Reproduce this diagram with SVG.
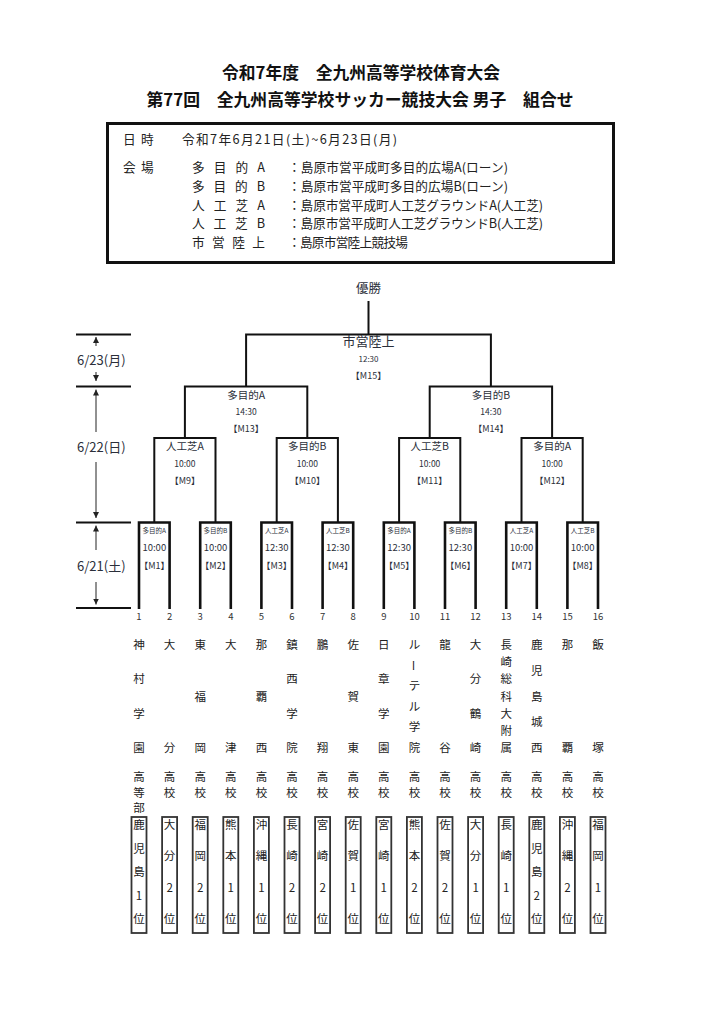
<svg xmlns="http://www.w3.org/2000/svg" width="722" height="1028" viewBox="0 0 722 1028">
<style>
text{font-family:"Noto Sans CJK JP","Noto Sans",sans-serif;fill:#222}
.ttl{font-size:17px;font-weight:bold;text-anchor:middle;fill:#111}
.inf{font-size:12.7px}
.ln{fill:none;stroke:#111;stroke-width:2}
.r1{fill:none;stroke:#111;stroke-width:2.6}
.dl{fill:none;stroke:#222;stroke-width:1}
.c{text-anchor:middle;fill:#2b2f3a}
.v0{font-size:13px}
.v1{font-size:10.5px}
.v2{font-size:6.5px}
.tm{font-size:8.5px}
.tm1{font-size:9.5px}
.mn{font-size:9px}
.num{font-size:9.5px;text-anchor:middle;fill:#333}
.nm{font-size:11.5px;text-anchor:middle;fill:#222}
.bx{fill:none;stroke:#333;stroke-width:1.8}
.dt{font-size:13px;fill:#2b2f3a}
</style>
<defs>
<marker id="ah" viewBox="0 0 10 10" refX="10" refY="5" markerWidth="6" markerHeight="6" orient="auto" markerUnits="userSpaceOnUse">
<path d="M0,0 L10,5 L0,10 z" fill="#222"/>
</marker>
</defs>

<g id="title">
<text class="ttl" x="361" y="79" textLength="278" lengthAdjust="spacingAndGlyphs">令和7年度　全九州高等学校体育大会</text>
<text class="ttl" x="360" y="106" textLength="427" lengthAdjust="spacingAndGlyphs">第77回　全九州高等学校サッカー競技大会 男子　組合せ</text>
</g>

<g id="info">
<rect x="107.5" y="123.5" width="506" height="139" fill="none" stroke="#111" stroke-width="3"/>
<text class="inf" x="123" y="144">日</text><text class="inf" x="141" y="144">時</text>
<text class="inf" x="182" y="144" textLength="215" lengthAdjust="spacing">令和7年6月21日(土)~6月23日(月)</text>
<text class="inf" x="123" y="172">会</text><text class="inf" x="141" y="172">場</text>
<text class="inf" x="192" y="172" textLength="73" lengthAdjust="spacing">多目的A</text>
<text class="inf" x="288" y="172" textLength="220" lengthAdjust="spacing">：島原市営平成町多目的広場A(ローン)</text>
<text class="inf" x="192" y="191" textLength="73" lengthAdjust="spacing">多目的B</text>
<text class="inf" x="288" y="191" textLength="220" lengthAdjust="spacing">：島原市営平成町多目的広場B(ローン)</text>
<text class="inf" x="192" y="210" textLength="73" lengthAdjust="spacing">人工芝A</text>
<text class="inf" x="288" y="210" textLength="255" lengthAdjust="spacing">：島原市営平成町人工芝グラウンドA(人工芝)</text>
<text class="inf" x="192" y="228" textLength="73" lengthAdjust="spacing">人工芝B</text>
<text class="inf" x="288" y="228" textLength="255" lengthAdjust="spacing">：島原市営平成町人工芝グラウンドB(人工芝)</text>
<text class="inf" x="192" y="247" textLength="73" lengthAdjust="spacing">市営陸上</text>
<text class="inf" x="288" y="247" textLength="120" lengthAdjust="spacing">：島原市営陸上競技場</text>
</g>

<g id="dates">
<path class="ln" d="M76,334.5H131M76,386.5H131M76,522.5H131M76,608H131"/>
<path class="dl" d="M96,346V337" marker-end="url(#ah)"/>
<path class="dl" d="M96,372V381" marker-end="url(#ah)"/>
<text class="dt" x="77" y="364.5">6/23(月)</text>
<path class="dl" d="M96,432V389.5" marker-end="url(#ah)"/>
<path class="dl" d="M96,462V518" marker-end="url(#ah)"/>
<text class="dt" x="77" y="451.5">6/22(日)</text>
<path class="dl" d="M96,550V525.5" marker-end="url(#ah)"/>
<path class="dl" d="M96,582V604.5" marker-end="url(#ah)"/>
<text class="dt" x="77" y="570.5">6/21(土)</text>
</g>

<g id="connectors">
<path class="ln" d="M368.5,301V334.5"/>
<path class="ln" d="M246.1,386.5V334.5H490.9V386.5"/>
<path class="ln" d="M184.9,438V386.5H307.3V438"/>
<path class="ln" d="M429.7,438V386.5H552.1V438"/>
<path class="ln" d="M154.3,522.5V438H215.5V522.5"/>
<path class="ln" d="M276.7,522.5V438H337.9V522.5"/>
<path class="ln" d="M399.1,522.5V438H460.3V522.5"/>
<path class="ln" d="M521.5,522.5V438H582.7V522.5"/>
<path class="r1" d="M139,609V522.5H169.6V609"/>
<path class="r1" d="M200.2,609V522.5H230.8V609"/>
<path class="r1" d="M261.4,609V522.5H292V609"/>
<path class="r1" d="M322.6,609V522.5H353.2V609"/>
<path class="r1" d="M383.8,609V522.5H414.4V609"/>
<path class="r1" d="M445,609V522.5H475.6V609"/>
<path class="r1" d="M506.2,609V522.5H536.8V609"/>
<path class="r1" d="M567.4,609V522.5H598V609"/>
</g>

<g id="champion"><text class="c v0" x="368.5" y="292.5" style="font-size:12.5px">優勝</text></g>

<g id="M15"><text class="c v0" x="368.5" y="346">市営陸上</text><text class="c tm" x="368.5" y="362" style="font-size:8px">12:30</text><text class="c mn" x="368.5" y="378.5">【M15】</text></g>
<g id="M13"><text class="c v1" x="246.1" y="399">多目的A</text><text class="c tm" x="246.1" y="414.5">14:30</text><text class="c mn" x="246.1" y="431.5">【M13】</text></g>
<g id="M14"><text class="c v1" x="490.9" y="399">多目的B</text><text class="c tm" x="490.9" y="414.5">14:30</text><text class="c mn" x="490.9" y="431.5">【M14】</text></g>

<g id="M9"><text class="c v1" x="184.9" y="450">人工芝A</text><text class="c tm" x="184.9" y="466.5">10:00</text><text class="c mn" x="184.9" y="483.5">【M9】</text></g>
<g id="M10"><text class="c v1" x="307.3" y="450">多目的B</text><text class="c tm" x="307.3" y="466.5">10:00</text><text class="c mn" x="307.3" y="483.5">【M10】</text></g>
<g id="M11"><text class="c v1" x="429.7" y="450">人工芝B</text><text class="c tm" x="429.7" y="466.5">10:00</text><text class="c mn" x="429.7" y="483.5">【M11】</text></g>
<g id="M12"><text class="c v1" x="552.1" y="450">多目的A</text><text class="c tm" x="552.1" y="466.5">10:00</text><text class="c mn" x="552.1" y="483.5">【M12】</text></g>

<g id="M1"><text class="c v2" x="154.3" y="532.5">多目的A</text><text class="c tm1" x="154.3" y="551">10:00</text><text class="c mn" x="154.3" y="568.5">【M1】</text></g>
<g id="M2"><text class="c v2" x="215.5" y="532.5">多目的B</text><text class="c tm1" x="215.5" y="551">10:00</text><text class="c mn" x="215.5" y="568.5">【M2】</text></g>
<g id="M3"><text class="c v2" x="276.7" y="532.5">人工芝A</text><text class="c tm1" x="276.7" y="551">12:30</text><text class="c mn" x="276.7" y="568.5">【M3】</text></g>
<g id="M4"><text class="c v2" x="337.9" y="532.5">人工芝B</text><text class="c tm1" x="337.9" y="551">12:30</text><text class="c mn" x="337.9" y="568.5">【M4】</text></g>
<g id="M5"><text class="c v2" x="399.1" y="532.5">多目的A</text><text class="c tm1" x="399.1" y="551">12:30</text><text class="c mn" x="399.1" y="568.5">【M5】</text></g>
<g id="M6"><text class="c v2" x="460.3" y="532.5">多目的B</text><text class="c tm1" x="460.3" y="551">12:30</text><text class="c mn" x="460.3" y="568.5">【M6】</text></g>
<g id="M7"><text class="c v2" x="521.5" y="532.5">人工芝A</text><text class="c tm1" x="521.5" y="551">10:00</text><text class="c mn" x="521.5" y="568.5">【M7】</text></g>
<g id="M8"><text class="c v2" x="582.7" y="532.5">人工芝B</text><text class="c tm1" x="582.7" y="551">10:00</text><text class="c mn" x="582.7" y="568.5">【M8】</text></g>

<g id="team1"><text class="num" x="139" y="619.5">1</text>
<text class="nm"><tspan x="139" y="649">神</tspan><tspan x="139" y="683.3">村</tspan><tspan x="139" y="717.7">学</tspan><tspan x="139" y="752">園</tspan><tspan x="139" y="781">高</tspan><tspan x="139" y="797">等</tspan><tspan x="139" y="812">部</tspan></text>
<rect class="bx" x="131.5" y="817" width="15" height="116"/>
<text class="nm"><tspan x="139" y="829">鹿</tspan><tspan x="139" y="852.5">児</tspan><tspan x="139" y="876">島</tspan><tspan x="139" y="899.5">1</tspan><tspan x="139" y="923">位</tspan></text></g>

<g id="team2"><text class="num" x="169.6" y="619.5">2</text>
<text class="nm"><tspan x="169.6" y="649">大</tspan><tspan x="169.6" y="752">分</tspan><tspan x="169.6" y="781">高</tspan><tspan x="169.6" y="797">校</tspan></text>
<rect class="bx" x="162.1" y="817" width="15" height="116"/>
<text class="nm"><tspan x="169.6" y="829">大</tspan><tspan x="169.6" y="860.3">分</tspan><tspan x="169.6" y="891.7">2</tspan><tspan x="169.6" y="923">位</tspan></text></g>

<g id="team3"><text class="num" x="200.2" y="619.5">3</text>
<text class="nm"><tspan x="200.2" y="649">東</tspan><tspan x="200.2" y="700.5">福</tspan><tspan x="200.2" y="752">岡</tspan><tspan x="200.2" y="781">高</tspan><tspan x="200.2" y="797">校</tspan></text>
<rect class="bx" x="192.7" y="817" width="15" height="116"/>
<text class="nm"><tspan x="200.2" y="829">福</tspan><tspan x="200.2" y="860.3">岡</tspan><tspan x="200.2" y="891.7">2</tspan><tspan x="200.2" y="923">位</tspan></text></g>

<g id="team4"><text class="num" x="230.8" y="619.5">4</text>
<text class="nm"><tspan x="230.8" y="649">大</tspan><tspan x="230.8" y="752">津</tspan><tspan x="230.8" y="781">高</tspan><tspan x="230.8" y="797">校</tspan></text>
<rect class="bx" x="223.3" y="817" width="15" height="116"/>
<text class="nm"><tspan x="230.8" y="829">熊</tspan><tspan x="230.8" y="860.3">本</tspan><tspan x="230.8" y="891.7">1</tspan><tspan x="230.8" y="923">位</tspan></text></g>

<g id="team5"><text class="num" x="261.4" y="619.5">5</text>
<text class="nm"><tspan x="261.4" y="649">那</tspan><tspan x="261.4" y="700.5">覇</tspan><tspan x="261.4" y="752">西</tspan><tspan x="261.4" y="781">高</tspan><tspan x="261.4" y="797">校</tspan></text>
<rect class="bx" x="253.9" y="817" width="15" height="116"/>
<text class="nm"><tspan x="261.4" y="829">沖</tspan><tspan x="261.4" y="860.3">縄</tspan><tspan x="261.4" y="891.7">1</tspan><tspan x="261.4" y="923">位</tspan></text></g>

<g id="team6"><text class="num" x="292" y="619.5">6</text>
<text class="nm"><tspan x="292" y="649">鎮</tspan><tspan x="292" y="683.3">西</tspan><tspan x="292" y="717.7">学</tspan><tspan x="292" y="752">院</tspan><tspan x="292" y="781">高</tspan><tspan x="292" y="797">校</tspan></text>
<rect class="bx" x="284.5" y="817" width="15" height="116"/>
<text class="nm"><tspan x="292" y="829">長</tspan><tspan x="292" y="860.3">崎</tspan><tspan x="292" y="891.7">2</tspan><tspan x="292" y="923">位</tspan></text></g>

<g id="team7"><text class="num" x="322.6" y="619.5">7</text>
<text class="nm"><tspan x="322.6" y="649">鵬</tspan><tspan x="322.6" y="752">翔</tspan><tspan x="322.6" y="781">高</tspan><tspan x="322.6" y="797">校</tspan></text>
<rect class="bx" x="315.1" y="817" width="15" height="116"/>
<text class="nm"><tspan x="322.6" y="829">宮</tspan><tspan x="322.6" y="860.3">崎</tspan><tspan x="322.6" y="891.7">2</tspan><tspan x="322.6" y="923">位</tspan></text></g>

<g id="team8"><text class="num" x="353.2" y="619.5">8</text>
<text class="nm"><tspan x="353.2" y="649">佐</tspan><tspan x="353.2" y="700.5">賀</tspan><tspan x="353.2" y="752">東</tspan><tspan x="353.2" y="781">高</tspan><tspan x="353.2" y="797">校</tspan></text>
<rect class="bx" x="345.7" y="817" width="15" height="116"/>
<text class="nm"><tspan x="353.2" y="829">佐</tspan><tspan x="353.2" y="860.3">賀</tspan><tspan x="353.2" y="891.7">1</tspan><tspan x="353.2" y="923">位</tspan></text></g>

<g id="team9"><text class="num" x="383.8" y="619.5">9</text>
<text class="nm"><tspan x="383.8" y="649">日</tspan><tspan x="383.8" y="683.3">章</tspan><tspan x="383.8" y="717.7">学</tspan><tspan x="383.8" y="752">園</tspan><tspan x="383.8" y="781">高</tspan><tspan x="383.8" y="797">校</tspan></text>
<rect class="bx" x="376.3" y="817" width="15" height="116"/>
<text class="nm"><tspan x="383.8" y="829">宮</tspan><tspan x="383.8" y="860.3">崎</tspan><tspan x="383.8" y="891.7">1</tspan><tspan x="383.8" y="923">位</tspan></text></g>

<g id="team10"><text class="num" x="414.4" y="619.5">10</text>
<text class="nm"><tspan x="414.4" y="649">ル</tspan></text>
<text class="nm" x="414.4" y="665.6" dominant-baseline="central" transform="rotate(90 414.4 665.6)">ー</text>
<text class="nm"><tspan x="414.4" y="690.2">テ</tspan><tspan x="414.4" y="710.8">ル</tspan><tspan x="414.4" y="731.4">学</tspan><tspan x="414.4" y="752">院</tspan><tspan x="414.4" y="781">高</tspan><tspan x="414.4" y="797">校</tspan></text>
<rect class="bx" x="406.9" y="817" width="15" height="116"/>
<text class="nm"><tspan x="414.4" y="829">熊</tspan><tspan x="414.4" y="860.3">本</tspan><tspan x="414.4" y="891.7">2</tspan><tspan x="414.4" y="923">位</tspan></text></g>

<g id="team11"><text class="num" x="445" y="619.5">11</text>
<text class="nm"><tspan x="445" y="649">龍</tspan><tspan x="445" y="752">谷</tspan><tspan x="445" y="781">高</tspan><tspan x="445" y="797">校</tspan></text>
<rect class="bx" x="437.5" y="817" width="15" height="116"/>
<text class="nm"><tspan x="445" y="829">佐</tspan><tspan x="445" y="860.3">賀</tspan><tspan x="445" y="891.7">2</tspan><tspan x="445" y="923">位</tspan></text></g>

<g id="team12"><text class="num" x="475.6" y="619.5">12</text>
<text class="nm"><tspan x="475.6" y="649">大</tspan><tspan x="475.6" y="683.3">分</tspan><tspan x="475.6" y="717.7">鶴</tspan><tspan x="475.6" y="752">崎</tspan><tspan x="475.6" y="781">高</tspan><tspan x="475.6" y="797">校</tspan></text>
<rect class="bx" x="468.1" y="817" width="15" height="116"/>
<text class="nm"><tspan x="475.6" y="829">大</tspan><tspan x="475.6" y="860.3">分</tspan><tspan x="475.6" y="891.7">1</tspan><tspan x="475.6" y="923">位</tspan></text></g>

<g id="team13"><text class="num" x="506.2" y="619.5">13</text>
<text class="nm"><tspan x="506.2" y="649">長</tspan><tspan x="506.2" y="666.2">崎</tspan><tspan x="506.2" y="683.3">総</tspan><tspan x="506.2" y="700.5">科</tspan><tspan x="506.2" y="717.7">大</tspan><tspan x="506.2" y="734.8">附</tspan><tspan x="506.2" y="752">属</tspan><tspan x="506.2" y="781">高</tspan><tspan x="506.2" y="797">校</tspan></text>
<rect class="bx" x="498.7" y="817" width="15" height="116"/>
<text class="nm"><tspan x="506.2" y="829">長</tspan><tspan x="506.2" y="860.3">崎</tspan><tspan x="506.2" y="891.7">1</tspan><tspan x="506.2" y="923">位</tspan></text></g>

<g id="team14"><text class="num" x="536.8" y="619.5">14</text>
<text class="nm"><tspan x="536.8" y="649">鹿</tspan><tspan x="536.8" y="674.8">児</tspan><tspan x="536.8" y="700.5">島</tspan><tspan x="536.8" y="726.3">城</tspan><tspan x="536.8" y="752">西</tspan><tspan x="536.8" y="781">高</tspan><tspan x="536.8" y="797">校</tspan></text>
<rect class="bx" x="529.3" y="817" width="15" height="116"/>
<text class="nm"><tspan x="536.8" y="829">鹿</tspan><tspan x="536.8" y="852.5">児</tspan><tspan x="536.8" y="876">島</tspan><tspan x="536.8" y="899.5">2</tspan><tspan x="536.8" y="923">位</tspan></text></g>

<g id="team15"><text class="num" x="567.4" y="619.5">15</text>
<text class="nm"><tspan x="567.4" y="649">那</tspan><tspan x="567.4" y="752">覇</tspan><tspan x="567.4" y="781">高</tspan><tspan x="567.4" y="797">校</tspan></text>
<rect class="bx" x="559.9" y="817" width="15" height="116"/>
<text class="nm"><tspan x="567.4" y="829">沖</tspan><tspan x="567.4" y="860.3">縄</tspan><tspan x="567.4" y="891.7">2</tspan><tspan x="567.4" y="923">位</tspan></text></g>

<g id="team16"><text class="num" x="598" y="619.5">16</text>
<text class="nm"><tspan x="598" y="649">飯</tspan><tspan x="598" y="752">塚</tspan><tspan x="598" y="781">高</tspan><tspan x="598" y="797">校</tspan></text>
<rect class="bx" x="590.5" y="817" width="15" height="116"/>
<text class="nm"><tspan x="598" y="829">福</tspan><tspan x="598" y="860.3">岡</tspan><tspan x="598" y="891.7">1</tspan><tspan x="598" y="923">位</tspan></text></g>
</svg>
